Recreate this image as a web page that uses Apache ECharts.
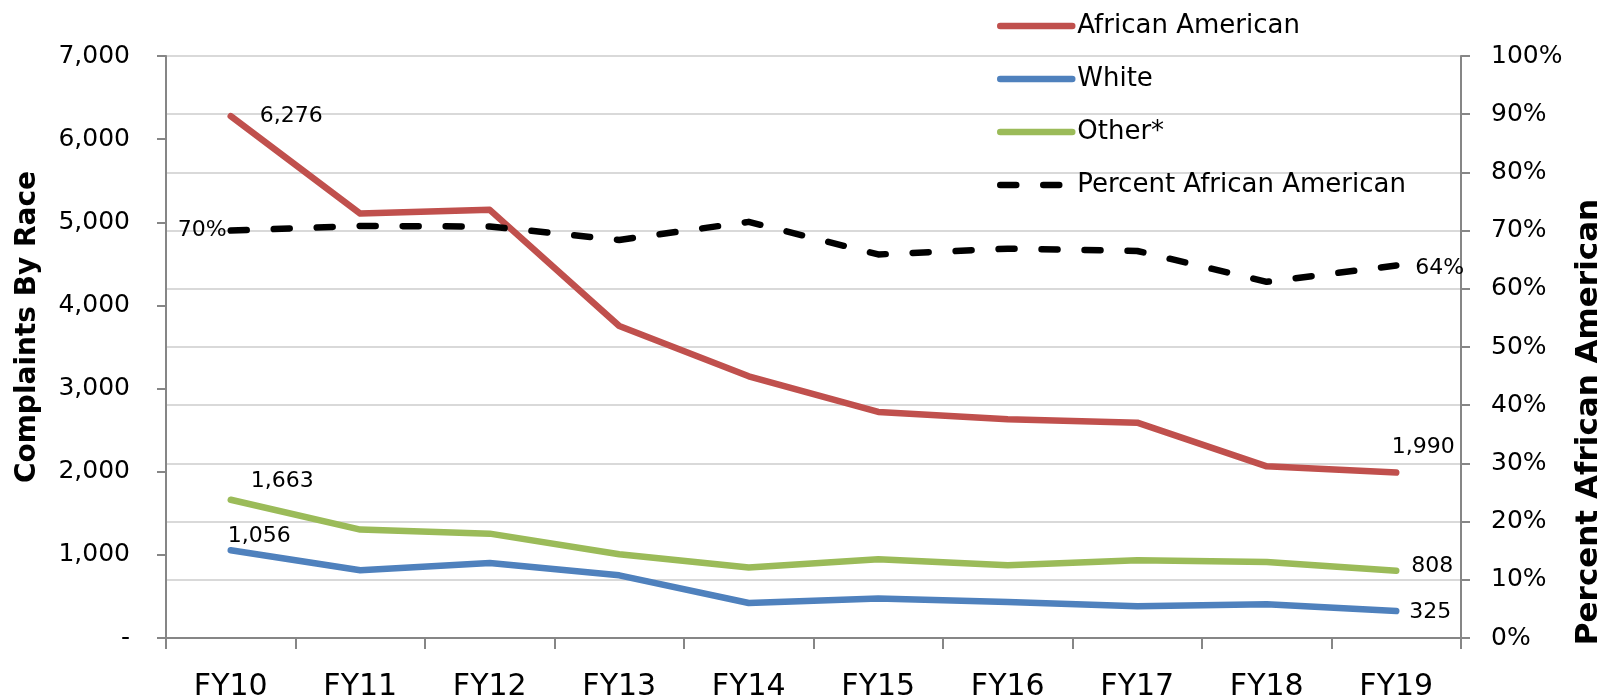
<!DOCTYPE html>
<html>
<head>
<meta charset="utf-8">
<script src="https://cdn.jsdelivr.net/npm/echarts@6/dist/echarts.min.js"></script>
<style>
html,body{margin:0;padding:0;background:#fff;}
#c{width:1604px;height:700px;}
</style>
</head>
<body>
<div id="c"></div>
<script>
var categories = ['FY10','FY11','FY12','FY13','FY14','FY15','FY16','FY17','FY18','FY19'];
var africanAmerican = [6276, 5105, 5150, 3753, 3148, 2719, 2630, 2590, 2065, 1990];
var white = [1056, 814, 902, 754, 421, 474, 433, 381, 405, 325];
var other = [1663, 1304, 1255, 1007, 847, 947, 874, 935, 914, 808];
var percentAA = [70, 70.8, 70.7, 68.4, 71.5, 65.9, 66.9, 66.5, 61.2, 64];
var leftTicks = [0, 7000, 1000];
var rightTicks = [0, 100, 10];

var FONT = 'DejaVu Sans';
var lblFont = {fontFamily: FONT, fontSize: 22, color: '#000'};
function fmtNum(v){ return Number(v).toLocaleString('en-US'); }

function withLabels(arr, labels, fmt){
  return arr.map(function(v, i){
    if (labels[i]) {
      var l = Object.assign({show: true, formatter: function(p){ return fmt(p.value); }}, lblFont, labels[i]);
      return {value: v, label: l};
    }
    return v;
  });
}

var axisGray = '#868686';
var LW = 6.5;
function lineSeries(name, color, axis, data, dash){
  return {
    name: name, type: 'line', yAxisIndex: axis,
    symbol: 'circle', symbolSize: 0, showSymbol: true,
    color: color,
    itemStyle: {color: color},
    lineStyle: {width: LW, color: color, type: dash || 'solid', cap: 'round', join: 'round'},
    emphasis: {disabled: true},
    data: data
  };
}

var chart = echarts.init(document.getElementById('c'));
chart.setOption({
  animation: false,
  backgroundColor: '#fff',
  grid: {left: 166, right: 143, top: 56, bottom: 62, containLabel: false, outerBoundsMode: 'none'},
  legend: {
    orient: 'vertical',
    left: 997, top: 11,
    padding: 0,
    itemWidth: 72, itemHeight: 20, itemGap: 23,
    lineStyle: {width: LW, cap: 'round'},
    itemStyle: {opacity: 0, color: 'rgba(0,0,0,0)', borderWidth: 0},
    textStyle: {fontFamily: FONT, fontSize: 26, color: '#000', lineHeight: 30},
    data: ['African American', 'White', 'Other*', 'Percent African American']
  },
  xAxis: {
    type: 'category',
    data: categories,
    boundaryGap: true,
    axisLine: {lineStyle: {color: axisGray, width: 2}},
    axisTick: {show: true, length: 11, lineStyle: {color: axisGray, width: 2}},
    axisLabel: {fontFamily: FONT, fontSize: 30, color: '#000', margin: 34},
    splitLine: {show: false}
  },
  yAxis: [{
    type: 'value',
    min: leftTicks[0], max: leftTicks[1], interval: leftTicks[2],
    position: 'left',
    name: 'Complaints By Race',
    nameLocation: 'middle',
    nameGap: 124,
    nameTextStyle: {fontFamily: FONT, fontWeight: 'bold', fontSize: 28, color: '#000', padding: [0, 0, 0, 40]},
    axisLine: {show: true, lineStyle: {color: axisGray, width: 2}},
    axisTick: {show: true, length: 9, lineStyle: {color: axisGray, width: 2}},
    axisLabel: {fontFamily: FONT, fontSize: 25, color: '#000', margin: 36,
      formatter: function(v){ return v === 0 ? '-' : fmtNum(v); }},
    splitLine: {show: false}
  }, {
    type: 'value',
    min: rightTicks[0], max: rightTicks[1], interval: rightTicks[2],
    position: 'right',
    name: 'Percent African American',
    nameLocation: 'middle',
    nameGap: 109,
    nameRotate: 90,
    nameTextStyle: {fontFamily: FONT, fontWeight: 'bold', fontSize: 31, color: '#000', padding: [0, 150, 0, 0]},
    axisLine: {show: true, lineStyle: {color: axisGray, width: 2}},
    axisTick: {show: true, length: 9, lineStyle: {color: axisGray, width: 2}},
    axisLabel: {fontFamily: FONT, fontSize: 25, color: '#000', margin: 30, formatter: '{value}%'},
    splitLine: {show: true, lineStyle: {color: '#d9d9d9', width: 2}}
  }],
  series: [
    lineSeries('African American', '#C0504D', 0, withLabels(africanAmerican, {
      0: {position: 'right', distance: 29},
      9: {position: 'top', distance: 14, offset: [27, 0]}
    }, fmtNum)),
    lineSeries('White', '#4F81BD', 0, withLabels(white, {
      0: {position: 'right', distance: -3, offset: [0, -14]},
      9: {position: 'right', distance: 13, offset: [0, 1]}
    }, fmtNum)),
    lineSeries('Other*', '#9BBB59', 0, withLabels(other, {
      0: {position: 'right', distance: 20, offset: [0, -18]},
      9: {position: 'right', distance: 15, offset: [0, -5]}
    }, fmtNum)),
    lineSeries('Percent African American', '#000', 1, withLabels(percentAA, {
      0: {position: 'left', distance: 4},
      9: {position: 'right', distance: 19, offset: [0, 3]}
    }, function(v){ return Math.round(v) + '%'; }), [16, 27])
  ]
});
</script>
</body>
</html>
